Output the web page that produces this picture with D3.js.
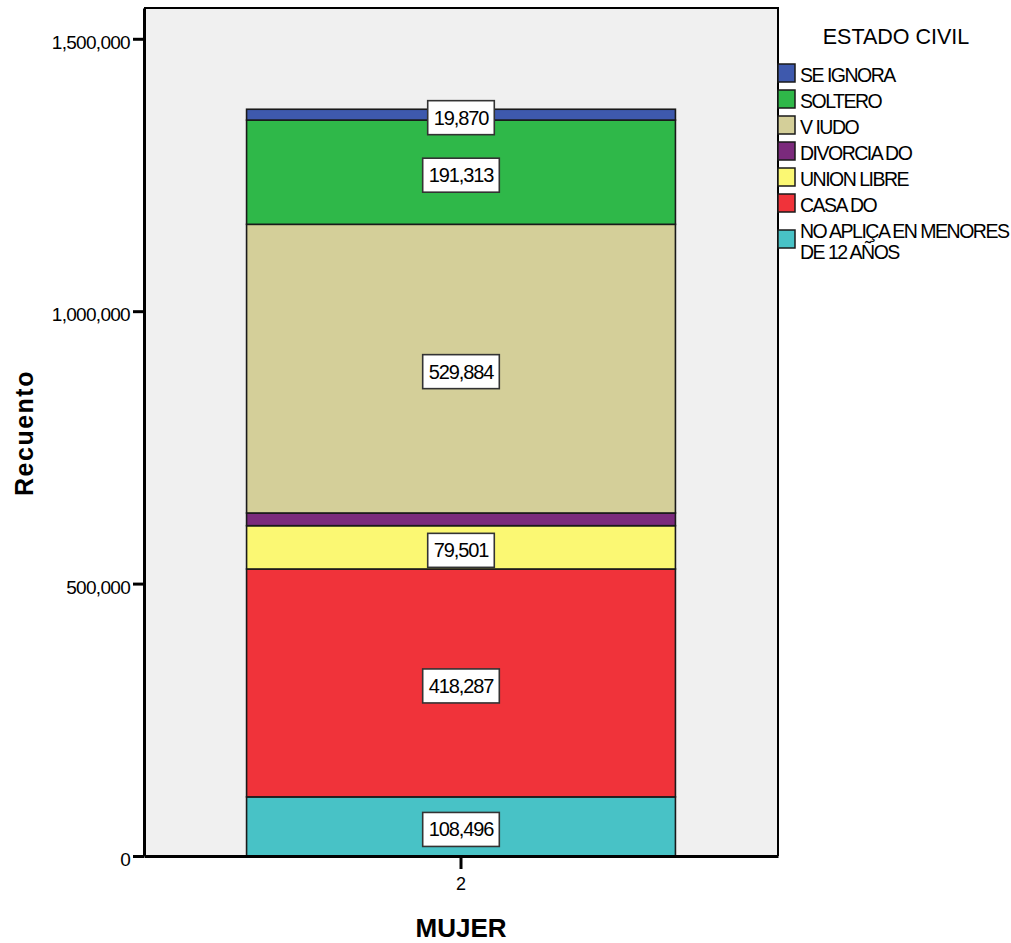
<!DOCTYPE html>
<html>
<head>
<meta charset="utf-8">
<script src="https://cdn.jsdelivr.net/npm/d3@7"></script>
<style>
  html, body { margin: 0; padding: 0; background: #ffffff; }
  svg { display: block; }
  text { font-family: "Liberation Sans", Arial, sans-serif; fill: #000; }
</style>
</head>
<body>
<svg id="chart" width="1011" height="943"></svg>
<script>
// Stacked bar: civil status counts for women (MUJER = 2)
const categories = ["2"];
const statusNames = ["NO APLICA EN MENORES DE 12 AÑOS", "CASADO", "UNION LIBRE", "DIVORCIADO", "VIUDO", "SOLTERO", "SE IGNORA"];
const statusValues = [108496, 418287, 79501, 23300, 529884, 191313, 19870];
const statusColors = ["#48c2c6", "#f0333a", "#fbf873", "#7b2a7c", "#d4cf99", "#2fb849", "#3e59ad"];
const labelled = [true, true, true, false, true, true, true];
const yTickValues = [0, 500000, 1000000, 1500000];
// legend order (top to bottom) and its wrapped text lines
const legendNames = ["SE IGNORA", "SOLTERO", "VIUDO", "DIVORCIADO", "UNION LIBRE", "CASADO", "NO APLICA EN MENORES DE 12 AÑOS"];
const legendLines = [["SE IGNORA"], ["SOLTERO"], ["V IUDO"], ["DIVORCIA DO"], ["UNION LIBRE"], ["CASA DO"], ["NO APLIÇA EN MENORES", "DE 12 AÑOS"]];

const svg = d3.select("#chart");
const plot = { left: 144, right: 778, top: 8, bottom: 856 };

const y = d3.scaleLinear().domain([0, 1556500]).range([plot.bottom, plot.top]);
const x = d3.scaleBand().domain(categories).range([plot.left, plot.right]).padding(0.193);

// plot background
svg.append("rect")
  .attr("x", plot.left).attr("y", plot.top)
  .attr("width", plot.right - plot.left).attr("height", plot.bottom - plot.top)
  .attr("fill", "#f0f0f0");

// stacked segments
let acc = 0;
const segs = statusValues.map((v, i) => {
  const s = { name: statusNames[i], v0: acc, v1: acc + v, value: v, color: statusColors[i], label: labelled[i] };
  acc += v;
  return s;
});

const bars = svg.append("g");
bars.selectAll("rect").data(segs).join("rect")
  .attr("x", x("2"))
  .attr("width", x.bandwidth())
  .attr("y", d => y(d.v1))
  .attr("height", d => y(d.v0) - y(d.v1))
  .attr("fill", d => d.color)
  .attr("stroke", "#1a1a1a")
  .attr("stroke-width", 1.6);

// frame (top and right)
svg.append("path")
  .attr("d", `M${plot.left},${plot.top}H${plot.right}V${plot.bottom}`)
  .attr("fill", "none").attr("stroke", "#000").attr("stroke-width", 2);

// value labels
const fmt = d3.format(",");
const lab = svg.append("g");
segs.filter(d => d.label).forEach(d => {
  const cx = x("2") + x.bandwidth() / 2;
  const cy = (y(d.v0) + y(d.v1)) / 2 + 3;
  const g = lab.append("g");
  const box = g.append("rect");
  const t = g.append("text")
    .attr("x", cx).attr("y", cy + 7)
    .attr("text-anchor", "middle")
    .attr("font-size", 20)
    .attr("letter-spacing", "-1.1px")
    .attr("fill", "#1a1a1a")
    .text(fmt(d.value));
  const w = t.node().getComputedTextLength() + 12;
  box.attr("x", cx - w / 2).attr("y", cy - 17)
    .attr("width", w).attr("height", 34)
    .attr("fill", "#ffffff").attr("stroke", "#333").attr("stroke-width", 1.6);
});

// y axis
const yAxis = svg.append("g")
  .attr("transform", `translate(${plot.left},0)`)
  .call(d3.axisLeft(y).tickValues(yTickValues).tickFormat(fmt).tickSize(11).tickSizeOuter(0).tickPadding(3));
yAxis.select(".domain").attr("stroke", "#000").attr("stroke-width", 3);
yAxis.selectAll(".tick line").attr("stroke", "#000").attr("stroke-width", 3);
yAxis.selectAll(".tick text")
  .attr("font-family", "'Liberation Sans', Arial, sans-serif")
  .attr("font-size", 19).attr("letter-spacing", "-0.7px")
  .attr("fill", "#000").attr("dy", "0.5em");

// x axis
const xAxis = svg.append("g")
  .attr("transform", `translate(0,${plot.bottom})`)
  .call(d3.axisBottom(x).tickSize(13).tickPadding(8).tickSizeOuter(0));
xAxis.select(".domain").attr("stroke", "#000").attr("stroke-width", 3);
xAxis.selectAll(".tick line").attr("stroke", "#000").attr("stroke-width", 3);
xAxis.selectAll(".tick text")
  .attr("font-family", "'Liberation Sans', Arial, sans-serif")
  .attr("font-size", 18).attr("fill", "#000");

// axis titles
svg.append("text")
  .attr("transform", "translate(33,433) rotate(-90)")
  .attr("text-anchor", "middle")
  .attr("font-size", 25).attr("font-weight", "bold").attr("letter-spacing", "1.5px")
  .text("Recuento");
svg.append("text")
  .attr("x", x("2") + x.bandwidth() / 2).attr("y", 937)
  .attr("text-anchor", "middle")
  .attr("font-size", 26).attr("font-weight", "bold")
  .text("MUJER");

// legend
const legend = svg.append("g");
legend.append("text")
  .attr("x", 896).attr("y", 44)
  .attr("text-anchor", "middle")
  .attr("font-size", 21.5)
  .text("ESTADO CIVIL");

const baselines = [82, 108, 134, 160, 186, 212];
legendNames.forEach((name, i) => {
  const idx = statusNames.indexOf(name);
  const lines = legendLines[i];
  const base = i < baselines.length ? baselines[i] : 238;
  const swTop = lines.length > 1 ? base - 8 : base - 18;
  legend.append("rect")
    .attr("x", 778).attr("y", swTop)
    .attr("width", 17).attr("height", 18)
    .attr("fill", statusColors[idx])
    .attr("stroke", "#1a1a1a").attr("stroke-width", 1.5);
  lines.forEach((ln, j) => {
    legend.append("text")
      .attr("x", 800).attr("y", base + j * 20.5)
      .attr("font-size", 19.5).attr("letter-spacing", "-1.5px")
      .text(ln);
  });
});
</script>
</body>
</html>
